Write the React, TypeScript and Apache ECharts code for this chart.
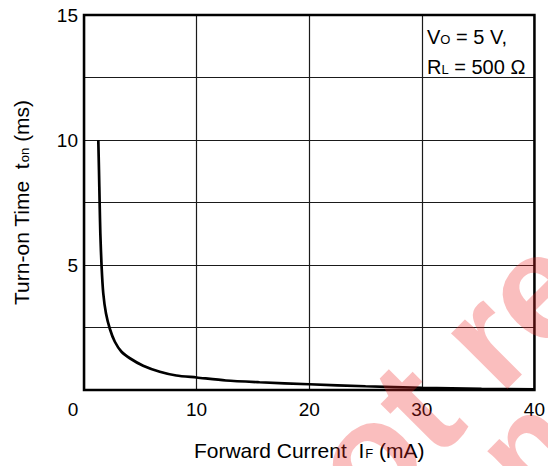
import React, { useEffect, useRef } from "react";
import * as echarts from "echarts";

const currentMA = [1.27, 1.33, 1.39, 1.45, 1.56, 1.71, 1.95, 2.3, 2.74, 3.33, 4.07, 5.25, 6.73, 8.2, 10, 12.6, 15.6, 20, 25, 30, 35.3, 40];
const turnOnMs = [10, 8.8, 7.47, 6.27, 4.96, 3.87, 3.07, 2.44, 1.93, 1.53, 1.27, 0.97, 0.73, 0.58, 0.5, 0.38, 0.31, 0.23, 0.15, 0.09, 0.05, 0.03];
const xTicks = [0, 10, 20, 30, 40];
const yTickLabels = [5, 10, 15];

const FONT = '"Liberation Sans", Arial, Helvetica, sans-serif';

export default function App() {
  const ref = useRef<HTMLDivElement>(null);
  useEffect(() => {
    document.body.style.margin = "0";
    if (!ref.current) return;
    const chart = echarts.init(ref.current, undefined, { renderer: "svg" });
    const deg = (45 * Math.PI) / 180;
    chart.setOption({
      animation: false,
      backgroundColor: "#fff",
      textStyle: { fontFamily: FONT },
      grid: {
        left: 84,
        top: 15,
        right: 12,
        bottom: 76,
        show: true,
        borderColor: "#000",
        borderWidth: 2.5,
        backgroundColor: "transparent",
        z: 3,
      },
      xAxis: {
        type: "value",
        min: 0,
        max: 40,
        interval: 10,
        axisLine: { show: false },
        axisTick: { show: false },
        splitLine: { show: true, lineStyle: { color: "#1a1a1a", width: 1.2 } },
        axisLabel: {
          color: "#000",
          fontSize: 19,
          fontFamily: FONT,
          margin: 10,
          formatter: (v: number) => (xTicks.includes(v) ? (v === 0 ? "{z|0}" : String(v)) : ""),
          rich: { z: { fontSize: 19, fontFamily: FONT, color: "#000", padding: [0, 22, 0, 0] } },
        },
        name: "Forward Current  I{sub|F} (mA)",
        nameLocation: "middle",
        nameGap: 50,
        nameTextStyle: {
          color: "#000",
          fontSize: 21,
          fontFamily: FONT,
          rich: { sub: { fontSize: 13, fontFamily: FONT, color: "#000", padding: [6, 0, 0, 1] } },
        },
      },
      yAxis: {
        type: "value",
        min: 0,
        max: 15,
        interval: 2.5,
        axisLine: { show: false },
        axisTick: { show: false },
        splitLine: { show: true, lineStyle: { color: "#1a1a1a", width: 1.2 } },
        axisLabel: {
          color: "#000",
          fontSize: 19,
          fontFamily: FONT,
          margin: 6,
          formatter: (v: number) => (yTickLabels.includes(v) ? String(v) : ""),
        },
        name: "Turn-on Time  t{sub|on} (ms)",
        nameLocation: "middle",
        nameRotate: 90,
        nameGap: 52,
        nameTextStyle: {
          color: "#000",
          fontSize: 21,
          fontFamily: FONT,
          rich: { sub: { fontSize: 13, fontFamily: FONT, color: "#000", padding: [6, 0, 0, 1] } },
        },
      },
      series: [
        {
          type: "line",
          data: currentMA.map((x, i) => [x, turnOnMs[i]]),
          showSymbol: false,
          smooth: 0.25,
          lineStyle: { color: "#000", width: 2.7 },
          z: 4,
        },
      ],
      graphic: [
        {
          type: "text",
          left: 427,
          top: 22,
          z: 10,
          style: {
            text: "V{sub|O} = 5 V,\nR{sub|L} = 500 Ω",
            fill: "#000",
            fontSize: 20,
            fontFamily: FONT,
            lineHeight: 30,
            rich: {
              sub: { fontSize: 13, fontFamily: FONT, fill: "#000", padding: [5, 0, 0, 0] },
            },
          },
        },
        {
          type: "text",
          x: 269,
          y: 554,
          rotation: deg,
          z: 100,
          silent: true,
          style: {
            text: "not recommended",
            fill: "rgba(240,40,40,0.3)",
            fontSize: 150,
            fontWeight: "bold",
            fontFamily: FONT,
            align: "left",
            verticalAlign: "middle",
          },
        },
        {
          type: "text",
          x: 350,
          y: 622,
          rotation: deg,
          z: 100,
          silent: true,
          style: {
            text: "for new design",
            fill: "rgba(240,40,40,0.3)",
            fontSize: 130,
            fontWeight: "bold",
            fontFamily: FONT,
            align: "left",
            verticalAlign: "middle",
          },
        },
      ],
    });
    return () => chart.dispose();
  }, []);
  return <div ref={ref} style={{ width: 548, height: 466 }} />;
}
